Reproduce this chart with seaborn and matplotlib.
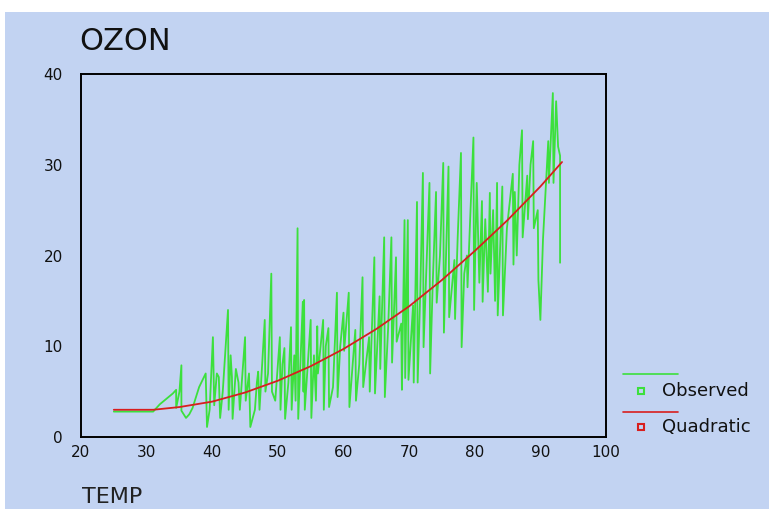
import matplotlib
matplotlib.use("Agg")
import matplotlib.pyplot as plt
from matplotlib.lines import Line2D
from matplotlib.patches import Rectangle
import pandas as pd
import seaborn as sns

sns.set_style("white")
plt.rcParams['font.family'] = ['DejaVu Sans']

# observed ozone, connected in temperature order
temp = [25, 31, 32, 34, 34.5, 34.5, 35, 35.3, 35.3, 36, 36.5, 37, 38, 39, 39.2, 39.6,
        40.1, 40.3, 40.7, 41.0, 41.2, 41.6, 42.4, 42.5, 42.8, 43.0, 43.1, 43.6, 44.0, 44.2,
        45.0, 45.1, 45.6, 45.8, 46.5, 46.8, 47.0, 47.2, 48.0, 48.1, 48.5, 49.0, 49.1, 49.6,
        50.3, 50.4, 50.7, 51.0, 51.1, 51.6, 52.0, 52.1, 52.5, 52.7, 53.0, 53.1, 53.8, 53.9,
        54.0, 54.1, 55.0, 55.1, 55.5, 55.8, 56.0, 56.1, 56.9, 57.0, 57.3, 57.7, 57.8, 58.4,
        59.0, 59.1, 59.5, 60.0, 60.1, 60.8, 60.9, 61.8, 61.9, 62.4, 62.9, 63.0, 63.9, 64.0,
        64.7, 64.8, 65.5, 65.6, 66.2, 66.3, 66.8, 67.3, 67.4, 68.0, 68.1, 68.8, 68.9, 69.3,
        69.4, 69.8, 69.9, 70.6, 70.7, 71.2, 71.3, 71.7, 72.1, 72.2, 72.6, 73.1, 73.2, 73.6,
        74.1, 74.2, 74.7, 75.2, 75.3, 76.0, 76.1, 76.9, 77.0, 77.4, 77.9, 78.0, 78.4, 78.8,
        78.9, 79.3, 79.8, 79.9, 80.3, 80.7, 81.1, 81.2, 81.6, 82.0, 82.3, 82.4, 82.8, 83.1,
        83.4, 83.5, 84.2, 84.3, 84.9, 85.8, 85.9, 86.1, 86.4, 86.8, 87.2, 87.3, 88.0, 88.1,
        88.5, 88.9, 89.0, 89.6, 89.7, 90.0, 90.4, 91.2, 91.3, 91.9, 92.0, 92.4, 92.7, 93.0,
        93.0]
ozone = [2.8, 2.8, 3.6, 4.8, 5.2, 3.2, 5.0, 7.9, 2.9, 2.1, 2.5, 3.2, 5.5, 7.0, 1.1, 3.0,
         11.0, 3.5, 7.0, 6.6, 2.1, 5.0, 14.0, 3.0, 9.0, 6.6, 2.0, 7.5, 6.0, 3.0,
         11.0, 4.0, 7.0, 1.1, 3.0, 6.0, 7.2, 3.0, 12.9, 5.0, 7.0, 18.0, 5.0, 4.0,
         11.0, 3.0, 8.0, 9.8, 2.0, 6.0, 12.1, 3.0, 9.0, 4.0, 23.0, 2.0, 14.9, 5.0,
         15.1, 3.0, 12.9, 2.1, 9.0, 4.0, 12.2, 7.0, 12.9, 3.0, 10.0, 12.0, 3.3, 5.5,
         15.9, 4.4, 10.0, 13.7, 9.5, 15.9, 3.3, 11.8, 4.0, 8.0, 17.6, 5.5, 11.0, 5.0,
         19.8, 4.8, 15.5, 7.5, 22.0, 4.4, 12.0, 22.0, 8.2, 19.8, 10.5, 12.5, 5.2, 23.9,
         6.5, 23.9, 6.3, 14.5, 6.0, 25.9, 6.0, 16.0, 29.1, 9.9, 18.0, 28.0, 7.0, 17.0,
         27.0, 14.8, 20.0, 30.2, 11.5, 29.8, 13.2, 19.5, 13.0, 22.0, 31.3, 9.9, 18.0, 20.0,
         16.5, 24.0, 33.0, 14.0, 28.0, 17.0, 26.0, 14.9, 24.0, 16.0, 26.9, 18.0, 25.0, 15.0,
         28.0, 13.4, 27.6, 13.4, 23.0, 29.0, 19.0, 27.0, 20.0, 30.0, 33.8, 22.0, 28.8, 24.0,
         30.0, 32.6, 23.0, 25.0, 17.3, 12.9, 21.8, 32.6, 28.0, 37.9, 28.0, 37.0, 32.0, 31.0,
         19.2]

# quadratic fit
fit_temp = [25, 31, 35, 40, 45, 50, 55, 60, 65, 70, 75, 80, 85, 90, 93.3]
fit_ozone = [3.0, 3.0, 3.3, 3.9, 4.9, 6.2, 7.8, 9.7, 11.9, 14.4, 17.3, 20.5, 23.9, 27.6, 30.3]

bg = '#C2D3F2'
green = '#3CE03C'
red = '#D81E1E'

obs = pd.DataFrame({'temp': temp, 'ozone': ozone})
fit = pd.DataFrame({'temp': fit_temp, 'ozone': fit_ozone})

fig = plt.figure(figsize=(7.69, 5.09), dpi=100, facecolor='white')
fig.add_artist(Rectangle((5 / 769, 0), 1, 1 - 12 / 509, transform=fig.transFigure,
                         facecolor=bg, edgecolor='none', zorder=-10))
ax = fig.add_axes([81 / 769, 72 / 509, 525 / 769, 363 / 509])
ax.set_facecolor(bg)

sns.lineplot(data=obs, x='temp', y='ozone', estimator=None, sort=False,
             color=green, lw=1.3, ax=ax)
sns.lineplot(data=fit, x='temp', y='ozone', estimator=None, sort=False,
             color=red, lw=1.3, ax=ax)

ax.set_xlim(20, 100)
ax.set_ylim(0, 40)
ax.set_xticks([20, 30, 40, 50, 60, 70, 80, 90, 100])
ax.set_yticks([0, 10, 20, 30, 40])
ax.set_xlabel('')
ax.set_ylabel('')
for s in ax.spines.values():
    s.set_color('black')
    s.set_linewidth(1.4)
ax.tick_params(direction='out', length=3, width=3, colors='black',
               labelsize=11, labelcolor='#111111')
ax.tick_params(axis='x', pad=3)
ax.tick_params(axis='y', pad=10)

fig.text(79 / 769, 1 - 50 / 509, 'OZON', fontsize=22, color='#111111',
         ha='left', va='baseline')
fig.text(82 / 769, 1 - 503 / 509, 'TEMP', fontsize=16, color='#222222',
         ha='left', va='baseline')

# legend drawn by hand: line above, square marker + label below
for ly, my, c, lab in [(374, 391, green, 'Observed'), (412, 427, red, 'Quadratic')]:
    fig.add_artist(Line2D([623 / 769, 678 / 769], [1 - ly / 509] * 2,
                          transform=fig.transFigure, color=c, lw=1.2))
    fig.add_artist(Line2D([641 / 769], [1 - my / 509], transform=fig.transFigure,
                          marker='s', ms=4.5, mfc='none', mec=c, mew=1.5, ls='none'))
    fig.text(662 / 769, 1 - my / 509, lab, fontsize=13, color='#111111',
             ha='left', va='center')

fig.savefig('out.png', dpi=100, facecolor='white')
